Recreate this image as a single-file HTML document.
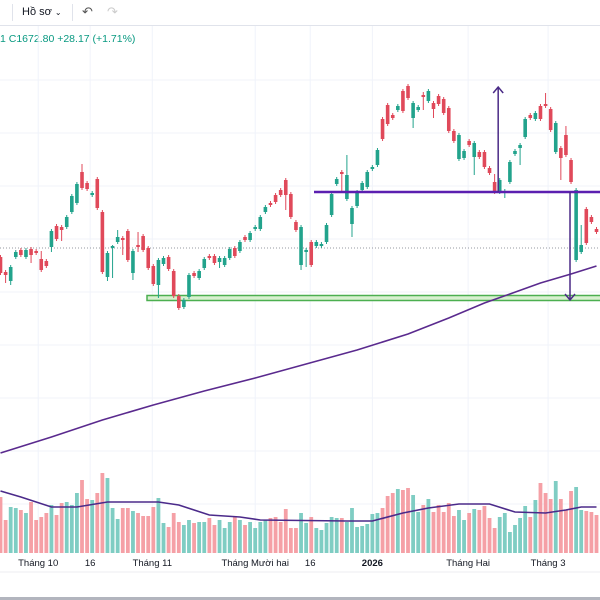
<!DOCTYPE html>
<html><head><meta charset="utf-8"><style>
html,body{margin:0;padding:0;background:#fff;width:600px;height:600px;overflow:hidden;font-family:"Liberation Sans","Noto Sans CJK SC",sans-serif}
#tb{position:absolute;left:0;top:0;width:600px;height:25px;border-bottom:1px solid #e0e3eb;}
</style></head><body>
<div id="tb">
  <div style="position:absolute;left:12px;top:4px;width:1px;height:17px;background:#e0e3eb"></div>
  <div style="position:absolute;left:22px;top:6px;font-size:11px;color:#131722">Hồ sơ <span style="font-size:8px">&#8964;</span></div>
  <div style="position:absolute;left:72px;top:4px;width:1px;height:17px;background:#e0e3eb"></div>
  <div style="position:absolute;left:82px;top:4px;font-size:13px;color:#555">&#8630;</div>
  <div style="position:absolute;left:107px;top:4px;font-size:13px;color:#ccc">&#8631;</div>
</div>
<div style="position:absolute;left:0;top:33px;font-size:10.5px;color:#089981">1 C1672.80 +28.17 (+1.71%)</div>
<svg id="chart" width="600" height="600" style="position:absolute;left:0;top:0;pointer-events:none" xmlns="http://www.w3.org/2000/svg"></svg>
<div style="position:absolute;left:0;top:597px;width:600px;height:3px;background:#b2b5be"></div>
<script>
// candle data (price units)
const dir = "RRGGRGRRRRGRRGGGRRGRRGGGRRGRRRRGGRRRGGRGGRRGGGRGRGGGGRRRRRRGGRGGGGGRGGGGGGGRRRGRRGGRGRRRRRGGRGRRRRGGGGGGRGRRRGRRRGGRR";
const bodyTop = [257,272,267,252,250,250,249,251,259,261,231,226,227,217,196,184,172,183,193,179,212,253,246,237,238,231,251,245,236,248,266,260,258,257,271,296,300,275,273,271,259,256,256,258,258,249,248,242,237,233,227,217,207,203,195,190,180,194,222,227,250,242,242,244,225,194,179,172,175,208,192,183,172,167,150,119,105,115,106,91,86,103,107,95,91,103,96,99,108,131,135,151,141,143,152,152,168,182,180,191,162,151,145,119,115,113,106,104,109,123,148,135,160,190,245,209,217,229];
const bodyBot = [273,275,281,257,255,257,255,253,270,266,247,239,230,227,212,203,188,189,195,208,272,277,248,242,240,260,273,247,250,268,284,285,264,269,296,308,307,297,276,278,268,258,263,262,265,258,256,251,240,240,229,229,212,205,202,195,195,217,230,265,252,265,246,246,242,215,184,174,199,224,206,190,187,169,165,139,124,118,110,111,98,118,110,97,101,109,104,113,131,141,159,158,145,157,157,167,173,192,192,193,182,154,148,137,118,119,119,106,130,152,158,155,182,260,252,243,222,232];
const wickTop = {16:164,8:251,22:245,23:230,27:232,60:248,67:170,68:155,83:92,97:174,107:93,111:126,114:225};
const wickBot = {1:283,2:285,6:263,10:252,12:241,21:281,22:278,24:255,26:280,27:252,31:298,43:268,56:210,59:270,60:267,67:192,69:237,81:128,83:110,85:118,93:175,99:198,102:165,110:180};
const volume = [56,33,46,45,43,40,51,33,36,40,48,38,50,51,48,60,73,54,53,60,80,75,45,34,45,45,42,40,37,37,46,55,30,26,40,31,28,33,30,31,31,35,28,33,25,31,37,33,28,31,25,31,33,35,36,31,44,25,25,40,30,36,25,23,30,36,35,35,31,45,26,27,29,39,40,45,57,60,64,63,65,58,41,48,54,41,48,41,50,37,43,33,40,44,43,47,35,25,36,40,21,28,35,47,36,53,70,60,54,72,54,43,62,66,43,42,41,38];
const priceMaIdx = [0,10,20,30,40,50,60,70,80,88,95,100,106,112,117];
const priceMaVal = [1468,1484,1501,1516,1530,1543,1557,1571,1587,1603,1618,1627,1638,1647,1655];
const volMaIdx = [0,4,10,15,21,31,35,41,47,51,68,73,79,84,90,96,101,107,111,114,117];
const volMaVal = [62,56,46,46,51,51,48,38,36,33,32,32,40,45,49,49,41,40,43,46,46];
const xLabels = ["Tháng 10","16","Tháng 11","Tháng Mười hai","16","2026","Tháng Hai","Tháng 3"];
const xLabelIdx = [7.4,17.6,29.8,50,60.8,73,91.8,107.5];
const resistance = 1729, support = 1623, lastClose = 1673;
const arrowUpIdx = 97.7, arrowUpTo = 1834, arrowDownIdx = 111.8, arrowDownTo = 1621;
// candle data expressed as price: price = 1921 - pixelY reference
const P = v => 1921 - v;

const svg = document.getElementById('chart');
const NS = 'http://www.w3.org/2000/svg';
const xS = i => 0.5 + i * 5.094;
const yS = p => 248 - (p - lastClose);
const vBase = 553;
const vS = v => vBase - v;
function mk(tag, attrs){const e=document.createElementNS(NS,tag);for(const k in attrs)e.setAttribute(k,attrs[k]);svg.appendChild(e);return e;}

// grid
xLabelIdx.forEach(i=>{const g=mk('line',{x1:xS(i),x2:xS(i),y1:26,y2:553,stroke:'#f0f3fa','stroke-width':1});

});
[80,133,186,239,292,345,398,451,504].forEach(y=>{const g=mk('line',{x1:0,x2:600,y1:y,y2:y,stroke:'#f0f3fa','stroke-width':1});

});
const sep=mk('line',{x1:0,x2:600,y1:572,y2:572,stroke:'#eceef2','stroke-width':1});



// volume bars
volume.forEach((v,i)=>{const r=mk('rect',{x:xS(i)-1.9,y:vS(v),width:3.8,height:v,fill:dir[i]==='G'?'#7fcdc3':'#f5a0a6'});

});
// volume MA
let vd='';volMaIdx.forEach((i,k)=>{vd+=(k?'L':'M')+xS(i)+' '+vS(volMaVal[k]);});
const vm=mk('path',{d:vd,fill:'none',stroke:'#4b2a8a','stroke-width':1.6});



// last price dotted line
const lp=mk('line',{x1:0,x2:600,y1:yS(lastClose),y2:yS(lastClose),stroke:'#9598a1','stroke-width':1,'stroke-dasharray':'1 2'});



// support zone
const sz=mk('rect',{x:147,y:yS(support)-2.5,width:460,height:5,fill:'#d8f0d0',stroke:'#4caf50','stroke-width':1.5});



// price MA
let pd='';priceMaIdx.forEach((i,k)=>{pd+=(k?'L':'M')+xS(i)+' '+yS(priceMaVal[k]);});
const pm=mk('path',{d:pd,fill:'none',stroke:'#5a2a8e','stroke-width':1.6});



// candles
bodyTop.forEach((t,i)=>{
  const o=P(t),c=P(bodyBot[i]);
  const hi=P(wickTop[i]!==undefined?wickTop[i]:t-2), lo=P(wickBot[i]!==undefined?wickBot[i]:bodyBot[i]+2);
  const col=dir[i]==='G'?'#22a38c':'#e0495a';
  const w=mk('line',{x1:xS(i),x2:xS(i),y1:yS(hi),y2:yS(lo),stroke:col,'stroke-width':1});
  
  
  const b=mk('rect',{x:xS(i)-1.8,y:yS(o),width:3.6,height:Math.max(1.5,yS(c)-yS(o)),fill:col});
  
  
});

// resistance
const rl=mk('line',{x1:314,x2:600,y1:yS(resistance),y2:yS(resistance),stroke:'#5b1fb0','stroke-width':2.6});



// arrows
function arrow(i,from,to,name){
  const x=xS(i),y1=yS(from),y2=yS(to),d=y2<y1?6:-6;
  const a=mk('path',{d:`M${x} ${y1}L${x} ${y2}M${x-5} ${y2+d}L${x} ${y2}L${x+5} ${y2+d}`,fill:'none',stroke:'#4a2a86','stroke-width':1.5});
  
  
}
arrow(arrowUpIdx,resistance,arrowUpTo,'target-arrow-up');
arrow(arrowDownIdx,resistance,arrowDownTo,'target-arrow-down');

// x labels
xLabels.forEach((s,k)=>{const t=mk('text',{x:xS(xLabelIdx[k]),y:566,'text-anchor':'middle','font-size':9.5,fill:'#131722','font-weight':s==='2026'?'bold':'normal','font-family':'Liberation Sans, sans-serif'});
t.textContent=s;

});
</script>
</body></html>
